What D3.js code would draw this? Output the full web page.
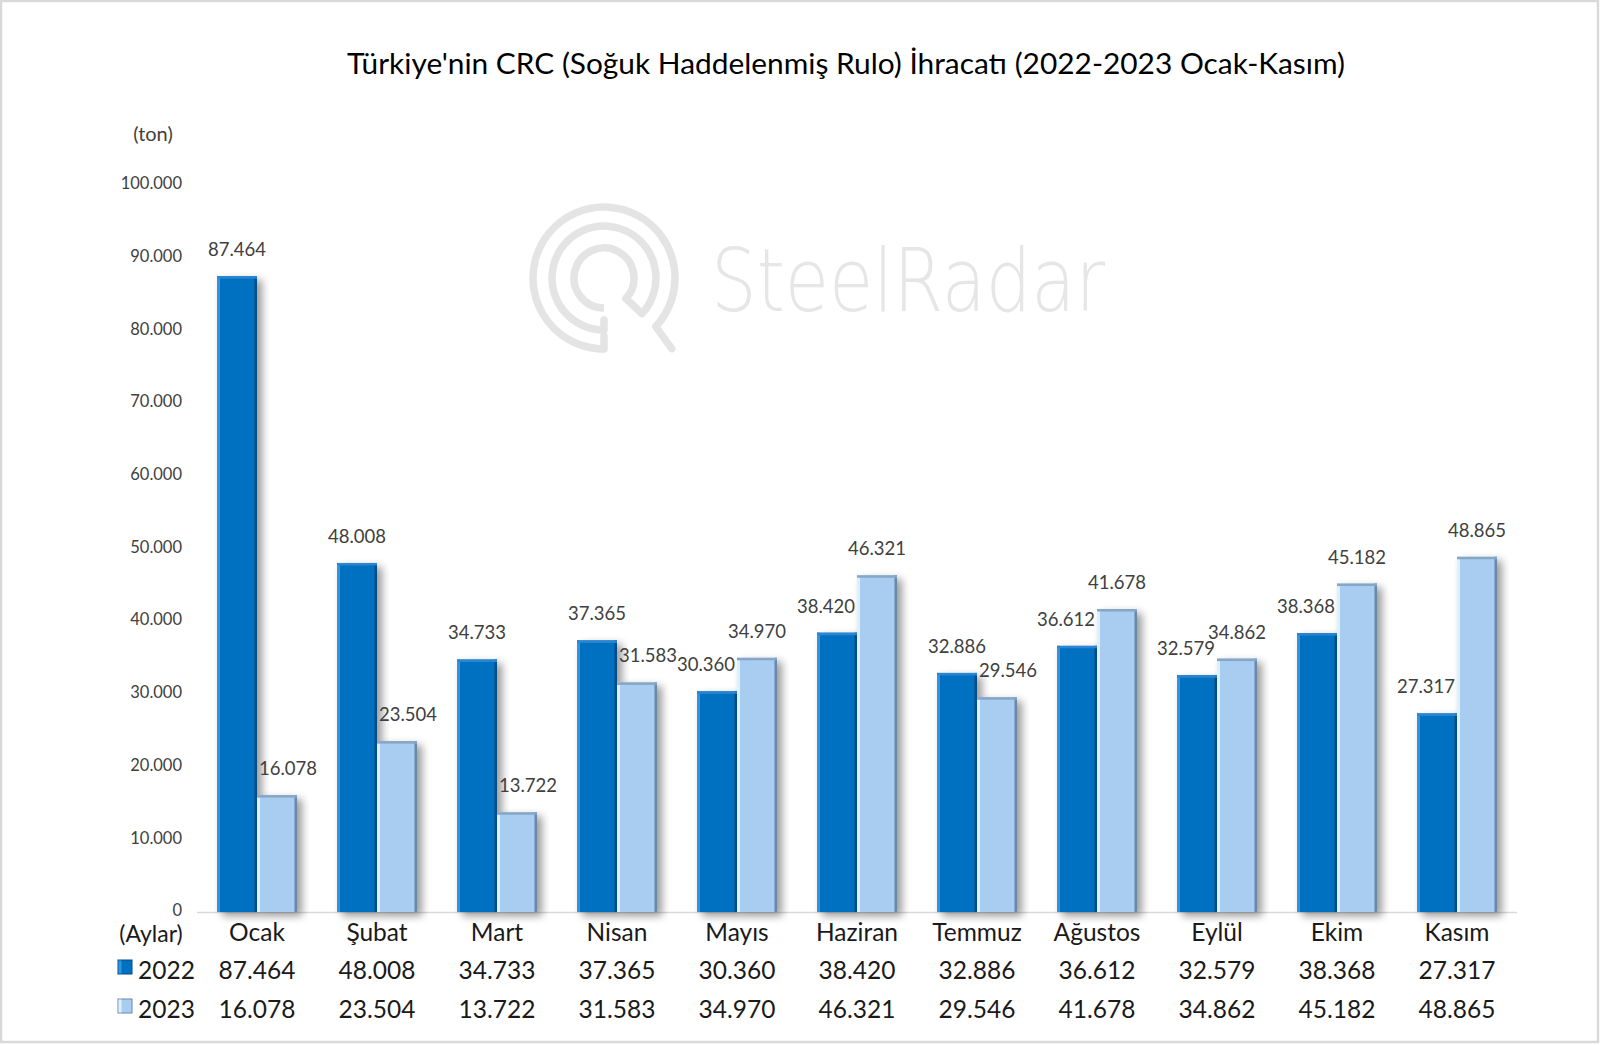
<!DOCTYPE html>
<html>
<head>
<meta charset="utf-8">
<script src="https://cdn.jsdelivr.net/npm/d3@7"></script>
<style>
html,body{margin:0;padding:0;background:#fff;}
svg{display:block;}
</style>
</head>
<body>
<svg id="chart" width="1600" height="1045"></svg>
<script>
const months = ["Ocak","Şubat","Mart","Nisan","Mayıs","Haziran","Temmuz","Ağustos","Eylül","Ekim","Kasım"];
const seriesNames = ["2022","2023"];
const values2022 = [87464,48008,34733,37365,30360,38420,32886,36612,32579,38368,27317];
const values2023 = [16078,23504,13722,31583,34970,46321,29546,41678,34862,45182,48865];
const yTicks = [0,10000,20000,30000,40000,50000,60000,70000,80000,90000,100000];
const titleText = "Türkiye'nin CRC (Soğuk Haddelenmiş Rulo) İhracatı (2022-2023 Ocak-Kasım)";

const series = [values2022, values2023];
const FONT = "Lato, 'Open Sans', sans-serif";
const svg = d3.select("#chart");
const fmt = v => v === 0 ? "0" : d3.format(",")(v).replace(/,/g, ".");

const styles = [
  {fill:"#0070c0", left:"#3394de", right:"#004d88", top:"#2a86d2"},
  {fill:"#a9cdf0", left:"#dcf0ff", right:"#6a88aa", top:"#86a6c6"}
];

// defs
const defs = svg.append("defs");
const f = defs.append("filter").attr("id","shadow").attr("x","-30%").attr("y","-10%").attr("width","160%").attr("height","130%");
f.append("feGaussianBlur").attr("in","SourceAlpha").attr("stdDeviation",4).attr("result","b");
f.append("feOffset").attr("in","b").attr("dx",5).attr("dy",4).attr("result","o");
f.append("feComponentTransfer").attr("in","o").attr("result","s")
  .append("feFuncA").attr("type","linear").attr("slope",0.4);
const fm = f.append("feMerge");
fm.append("feMergeNode").attr("in","s");
fm.append("feMergeNode").attr("in","SourceGraphic");

// border
svg.append("rect").attr("x",1).attr("y",1).attr("width",1597).attr("height",1041)
  .attr("fill","#fff").attr("stroke","#d9d9d9").attr("stroke-width",2.5);

// watermark
const wm = svg.append("g").attr("transform","translate(604,278)").attr("fill","none")
  .attr("stroke","#e4e4e4").attr("stroke-width",7.5).attr("stroke-linecap","round");
const arcGen = (r) => d3.arc()({innerRadius:r, outerRadius:r, startAngle:Math.PI, endAngle:Math.PI + Math.PI*2*0.87});
[71,52,30].forEach(r => wm.append("path").attr("d", arcGen(r)));
const pt = (r,a) => [r*Math.sin(a), -r*Math.cos(a)];
const aEnd = Math.PI + Math.PI*2*0.87;
let p1 = pt(71,aEnd), p2 = pt(52,aEnd), p3 = pt(30,aEnd);
wm.append("path").attr("d", `M${p1[0]},${p1[1]} L${p1[0]+16},${p1[1]+22}`);
wm.append("path").attr("d", `M${p3[0]},${p3[1]} L${p2[0]},${p2[1]}`);
wm.append("line").attr("x1",0).attr("y1",71).attr("x2",0).attr("y2",58);
wm.append("line").attr("x1",0).attr("y1",52).attr("x2",0).attr("y2",42);
svg.append("text").attr("x",711).attr("y",311).attr("fill","#e6e6e6")
  .attr("font-family","'DejaVu Sans', sans-serif").attr("font-weight",200)
  .attr("font-size",88).text("SteelRadar")
  .attr("textLength",394).attr("lengthAdjust","spacingAndGlyphs");

// title
const title = svg.append("text").attr("x",846).attr("y",74).attr("text-anchor","middle")
  .attr("font-family",FONT).attr("font-size",26).attr("fill","#000").text(titleText);
const tw = title.node().getComputedTextLength();
title.attr("font-size", 26*998/tw);

// scales
const x = d3.scaleBand().domain(months).range([197,1517]).paddingInner(1/3).paddingOuter(1/6);
const xs = d3.scaleBand().domain(seriesNames).range([0, x.bandwidth()]);
const y = d3.scaleLinear().domain([0,100000]).range([912,185]);

// y tick labels
svg.append("g").selectAll("text").data(yTicks).join("text")
  .attr("x",182).attr("y",d=>y(d)-1.5).attr("dy","0.35em").attr("text-anchor","end")
  .attr("font-family",FONT).attr("font-size",16.5).attr("fill","#404040").text(fmt);
svg.append("text").attr("x",153).attr("y",134).attr("dy","0.35em").attr("text-anchor","middle")
  .attr("font-family",FONT).attr("font-size",20).attr("fill","#404040").text("(ton)");

// axis line
svg.append("line").attr("x1",197).attr("x2",1517).attr("y1",y(0)+0.5).attr("y2",y(0)+0.5)
  .attr("stroke","#d9d9d9").attr("stroke-width",1.5);

// bars
const barsG = svg.append("g");
months.forEach((m,i) => {
  seriesNames.forEach((s,j) => {
    const v = series[j][i];
    const bx = x(m) + xs(s), bw = xs.bandwidth(), by = y(v), bh = y(0) - y(v);
    const st = styles[j];
    const g = barsG.append("g").attr("filter","url(#shadow)");
    g.append("rect").attr("x",bx).attr("y",by).attr("width",bw).attr("height",bh).attr("fill",st.fill);
    g.append("rect").attr("x",bx).attr("y",by).attr("width",3).attr("height",bh).attr("fill",st.left);
    g.append("rect").attr("x",bx+bw-2.5).attr("y",by).attr("width",2.5).attr("height",bh).attr("fill",st.right);
    g.append("rect").attr("x",bx).attr("y",by).attr("width",bw).attr("height",2.5).attr("fill",st.top);
  });
});

// data labels with simple collision avoidance against the neighbouring bar
const lblG = svg.append("g");
months.forEach((m,i) => {
  seriesNames.forEach((s,j) => {
    const v = series[j][i];
    const cx = x(m) + xs(s) + xs.bandwidth()/2;
    const base = y(v) - 20;
    const t = lblG.append("text").attr("x",cx).attr("y",base).attr("text-anchor","middle")
      .attr("font-family",FONT).attr("font-size",18.5).attr("fill","#404040").text(fmt(v));
    const w = t.node().getComputedTextLength();
    const other = series[1-j][i];
    const labelBottom = base + 5;
    if (y(other) < labelBottom) {
      if (j === 1) {
        const edge = x(m) + xs(seriesNames[0]) + xs.bandwidth();
        t.attr("x", Math.max(cx, edge + 2 + w/2));
      } else {
        const edge = x(m) + xs(seriesNames[1]);
        t.attr("x", Math.min(cx, edge - 2 - w/2));
      }
    }
  });
});

// table
const TF = 24.5;
svg.append("text").attr("x",151).attr("y",942).attr("text-anchor","middle")
  .attr("font-family",FONT).attr("font-size",23).attr("fill","#1a1a1a").text("(Aylar)");
svg.append("g").selectAll("text").data(months).join("text")
  .attr("x",d=>x(d)+x.bandwidth()/2).attr("y",941).attr("text-anchor","middle")
  .attr("font-family",FONT).attr("font-size",TF).attr("fill","#1a1a1a").text(d=>d);
const rowY = [979,1018];
seriesNames.forEach((s,j) => {
  const st = styles[j];
  const sq = svg.append("g");
  sq.append("rect").attr("x",118).attr("y",rowY[j]-19).attr("width",14).attr("height",14).attr("fill",st.fill).attr("stroke",st.right).attr("stroke-width",1);
  sq.append("rect").attr("x",118.5).attr("y",rowY[j]-18.5).attr("width",3).attr("height",13).attr("fill",st.left);
  svg.append("text").attr("x",138).attr("y",rowY[j]).attr("font-family",FONT).attr("font-size",TF)
    .attr("fill","#1a1a1a").text(s);
  svg.append("g").selectAll("text").data(series[j]).join("text")
    .attr("x",(d,i)=>x(months[i])+x.bandwidth()/2).attr("y",rowY[j]).attr("text-anchor","middle")
    .attr("font-family",FONT).attr("font-size",TF).attr("fill","#1a1a1a").text(fmt);
});
</script>
</body>
</html>
